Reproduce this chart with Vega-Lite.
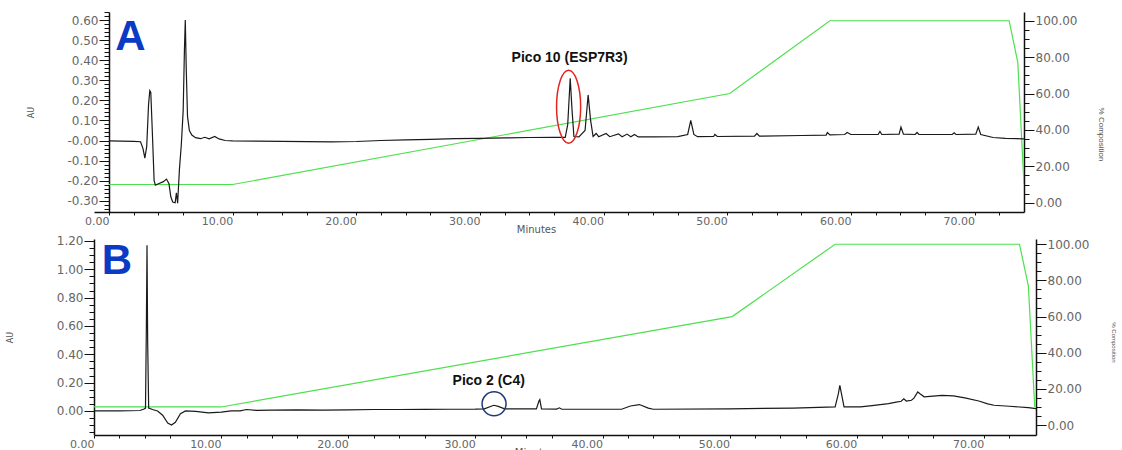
{
  "$schema": "https://vega.github.io/schema/vega-lite/v6.json",
  "padding": {"left": 6, "top": 6, "right": 0, "bottom": 0},
  "spacing": 0,
  "config": {
    "view": {"stroke": null},
    "axis": {
      "domainColor": "#111111",
      "domainWidth": 1.5,
      "tickColor": "#111111",
      "tickWidth": 1,
      "tickCount": 200,
      "labelFont": "DejaVu Sans",
      "labelFontSize": 12,
      "labelColor": "#666666",
      "titleFont": "DejaVu Sans",
      "titleFontWeight": "normal",
      "titleColor": "#555555",
      "grid": false,
      "labelOverlap": false,
      "labelFlush": false,
      "labelBound": false
    }
  },
  "datasets": {
    "gradient": [
      {"t": 0, "pct": 10}, {"t": 10, "pct": 10}, {"t": 50.2, "pct": 60}, {"t": 58.3, "pct": 100},
      {"t": 72.8, "pct": 100}, {"t": 73.5, "pct": 77}, {"t": 74.0, "pct": 10}
    ],
    "traceA": [
      {"t": 0, "au": -0.002}, {"t": 1.0, "au": -0.003}, {"t": 2.0, "au": -0.004}, {"t": 2.55, "au": -0.006},
      {"t": 2.75, "au": -0.04}, {"t": 2.9, "au": -0.088}, {"t": 3.05, "au": -0.03}, {"t": 3.2, "au": 0.18},
      {"t": 3.3, "au": 0.248}, {"t": 3.38, "au": 0.24}, {"t": 3.5, "au": 0.05}, {"t": 3.65, "au": -0.2},
      {"t": 3.75, "au": -0.222}, {"t": 4.0, "au": -0.215}, {"t": 4.4, "au": -0.205}, {"t": 4.65, "au": -0.192},
      {"t": 4.85, "au": -0.215}, {"t": 5.0, "au": -0.28}, {"t": 5.15, "au": -0.306}, {"t": 5.35, "au": -0.31},
      {"t": 5.45, "au": -0.26}, {"t": 5.55, "au": -0.312}, {"t": 5.7, "au": -0.14}, {"t": 5.85, "au": -0.02},
      {"t": 6.0, "au": 0.15}, {"t": 6.1, "au": 0.45}, {"t": 6.17, "au": 0.6}, {"t": 6.25, "au": 0.35},
      {"t": 6.35, "au": 0.12}, {"t": 6.5, "au": 0.05}, {"t": 6.7, "au": 0.027}, {"t": 7.0, "au": 0.014},
      {"t": 7.4, "au": 0.009}, {"t": 7.75, "au": 0.016}, {"t": 8.1, "au": 0.008}, {"t": 8.55, "au": 0.02},
      {"t": 8.9, "au": 0.008}, {"t": 9.4, "au": 0.0}, {"t": 10, "au": -0.002}, {"t": 12, "au": -0.003},
      {"t": 14, "au": -0.004}, {"t": 16, "au": -0.006}, {"t": 18, "au": -0.007}, {"t": 20, "au": -0.005},
      {"t": 22, "au": 0.0}, {"t": 24, "au": 0.003}, {"t": 26, "au": 0.006}, {"t": 28, "au": 0.009},
      {"t": 30, "au": 0.011}, {"t": 32, "au": 0.013}, {"t": 34, "au": 0.015}, {"t": 36, "au": 0.016},
      {"t": 36.9, "au": 0.016}, {"t": 37.1, "au": 0.08}, {"t": 37.3, "au": 0.31}, {"t": 37.45, "au": 0.15},
      {"t": 37.6, "au": 0.02}, {"t": 38.0, "au": 0.018}, {"t": 38.5, "au": 0.05}, {"t": 38.75, "au": 0.227},
      {"t": 38.95, "au": 0.1}, {"t": 39.15, "au": 0.02}, {"t": 39.4, "au": 0.035}, {"t": 39.6, "au": 0.019},
      {"t": 40.2, "au": 0.035}, {"t": 40.5, "au": 0.019}, {"t": 41.2, "au": 0.033}, {"t": 41.5, "au": 0.019},
      {"t": 41.9, "au": 0.032}, {"t": 42.2, "au": 0.019}, {"t": 42.5, "au": 0.03}, {"t": 42.8, "au": 0.018},
      {"t": 44, "au": 0.018}, {"t": 46, "au": 0.019}, {"t": 46.8, "au": 0.03}, {"t": 47.05, "au": 0.1},
      {"t": 47.3, "au": 0.03}, {"t": 47.6, "au": 0.019}, {"t": 48.9, "au": 0.02}, {"t": 49.0, "au": 0.03},
      {"t": 49.2, "au": 0.02}, {"t": 52.2, "au": 0.022}, {"t": 52.4, "au": 0.035}, {"t": 52.6, "au": 0.022},
      {"t": 56, "au": 0.025}, {"t": 58.0, "au": 0.027}, {"t": 58.1, "au": 0.04}, {"t": 58.3, "au": 0.028},
      {"t": 59.5, "au": 0.03}, {"t": 59.7, "au": 0.04}, {"t": 60, "au": 0.03}, {"t": 62.2, "au": 0.03},
      {"t": 62.35, "au": 0.045}, {"t": 62.5, "au": 0.03}, {"t": 63.9, "au": 0.032}, {"t": 64.05, "au": 0.067},
      {"t": 64.25, "au": 0.032}, {"t": 65.2, "au": 0.03}, {"t": 65.35, "au": 0.04}, {"t": 65.5, "au": 0.03},
      {"t": 68.2, "au": 0.03}, {"t": 68.35, "au": 0.038}, {"t": 68.5, "au": 0.03}, {"t": 70.1, "au": 0.032},
      {"t": 70.3, "au": 0.067}, {"t": 70.5, "au": 0.03}, {"t": 71.5, "au": 0.015}, {"t": 72.5, "au": 0.011},
      {"t": 74, "au": 0.008}
    ],
    "traceB": [
      {"t": 0, "au": 0.0}, {"t": 2, "au": 0.0}, {"t": 3.6, "au": 0.003}, {"t": 3.9, "au": 0.012},
      {"t": 4.05, "au": 0.02}, {"t": 4.12, "au": 0.6}, {"t": 4.17, "au": 1.17}, {"t": 4.22, "au": 0.5},
      {"t": 4.3, "au": 0.02}, {"t": 4.6, "au": 0.01}, {"t": 5.0, "au": 0.0}, {"t": 5.4, "au": -0.03},
      {"t": 5.8, "au": -0.085}, {"t": 6.1, "au": -0.1}, {"t": 6.4, "au": -0.08}, {"t": 6.8, "au": -0.02},
      {"t": 7.2, "au": 0.0}, {"t": 8.0, "au": -0.003}, {"t": 9.0, "au": -0.014}, {"t": 10.0, "au": -0.008},
      {"t": 10.8, "au": 0.0}, {"t": 11.5, "au": 0.0}, {"t": 12.0, "au": 0.01}, {"t": 12.8, "au": 0.004},
      {"t": 14, "au": 0.005}, {"t": 16, "au": 0.008}, {"t": 18, "au": 0.006}, {"t": 20, "au": 0.008},
      {"t": 22, "au": 0.01}, {"t": 24, "au": 0.01}, {"t": 26, "au": 0.011}, {"t": 28, "au": 0.012},
      {"t": 30, "au": 0.013}, {"t": 30.7, "au": 0.015}, {"t": 31.45, "au": 0.04}, {"t": 31.8, "au": 0.032},
      {"t": 32.3, "au": 0.015}, {"t": 34.8, "au": 0.014}, {"t": 35.0, "au": 0.07}, {"t": 35.07, "au": 0.08},
      {"t": 35.2, "au": 0.014}, {"t": 36.4, "au": 0.013}, {"t": 36.6, "au": 0.022}, {"t": 36.8, "au": 0.012},
      {"t": 41.5, "au": 0.012}, {"t": 42.2, "au": 0.035}, {"t": 42.9, "au": 0.045}, {"t": 43.6, "au": 0.02},
      {"t": 44, "au": 0.012}, {"t": 50, "au": 0.015}, {"t": 55, "au": 0.02}, {"t": 58.3, "au": 0.028},
      {"t": 58.55, "au": 0.12}, {"t": 58.67, "au": 0.18}, {"t": 58.8, "au": 0.12}, {"t": 59.0, "au": 0.028},
      {"t": 60.3, "au": 0.028}, {"t": 61.2, "au": 0.038}, {"t": 62.5, "au": 0.052}, {"t": 63.0, "au": 0.06},
      {"t": 63.5, "au": 0.068}, {"t": 63.7, "au": 0.085}, {"t": 63.9, "au": 0.07}, {"t": 64.3, "au": 0.075},
      {"t": 64.5, "au": 0.09}, {"t": 64.8, "au": 0.134}, {"t": 65.0, "au": 0.12}, {"t": 65.3, "au": 0.1},
      {"t": 66, "au": 0.105}, {"t": 66.7, "au": 0.11}, {"t": 67.6, "au": 0.106}, {"t": 68.5, "au": 0.092},
      {"t": 69.6, "au": 0.07}, {"t": 70.3, "au": 0.05}, {"t": 70.8, "au": 0.04}, {"t": 72.0, "au": 0.033},
      {"t": 73.5, "au": 0.023}, {"t": 74.1, "au": 0.016}
    ]
  },
  "vconcat": [
    {
      "width": 930,
      "height": 200,
      "resolve": {"scale": {"y": "independent"}, "axis": {"y": "independent"}},
      "layer": [
        {
          "data": {"name": "gradient"},
          "mark": {"type": "line", "color": "#4de04d", "strokeWidth": 1.2, "clip": true},
          "encoding": {
            "x": {
              "field": "t", "type": "quantitative",
              "scale": {"domain": [-1.213, 74.0], "nice": false, "zero": false},
              "axis": {
                "values": [0, 2, 4, 6, 10, 12, 14, 16, 20, 22, 24, 26, 30, 32, 34, 36, 40, 42, 44, 46, 50, 52, 54, 56, 60, 62, 64, 66, 70, 72],
                "labelExpr": "datum.value % 10 === 0 ? format(datum.value, '.2f') : ''",
                "tickCount": 200, "tickSize": 3, "labelAlign": "right", "labelPadding": 0, "labelFontSize": 11,
                "title": "Minutes", "titleFontSize": 10, "titlePadding": -2, "titleX": 442, "titleAlign": "center"
              }
            },
            "y": {
              "field": "pct", "type": "quantitative",
              "scale": {"domain": [-5.1, 104.8], "nice": false, "zero": false},
              "axis": {
                "orient": "right", "tickCount": 200,
                "values": [0, 5, 10, 15, 20, 25, 30, 35, 40, 45, 50, 55, 60, 65, 70, 75, 80, 85, 90, 95, 100],
                "labelExpr": "datum.value % 20 === 0 ? format(datum.value, '.2f') : ''",
                "tickSize": {"condition": {"test": "datum.value % 20 === 0", "value": 10}, "value": 5},
                "labelPadding": 1,
                "title": "% Composition", "titleFont": "Liberation Sans", "titleFontSize": 8,
                "titleAngle": 90, "titlePadding": 20, "titleY": 122
              }
            }
          }
        },
        {
          "layer": [
            {
              "data": {"name": "traceA"},
              "mark": {"type": "line", "color": "#1a1a1a", "strokeWidth": 1.2, "clip": true},
              "encoding": {
                "x": {"field": "t", "type": "quantitative"},
                "y": {
                  "field": "au", "type": "quantitative",
                  "scale": {"domain": [-0.356, 0.64], "nice": false, "zero": false},
                  "axis": {
                    "orient": "left", "offset": -15, "tickCount": 200,
                    "values": [-0.34, -0.32, -0.3, -0.28, -0.26, -0.24, -0.22, -0.2, -0.18, -0.16, -0.14, -0.12, -0.1, -0.08, -0.06, -0.04, -0.02, 0, 0.02, 0.04, 0.06, 0.08, 0.1, 0.12, 0.14, 0.16, 0.18, 0.2, 0.22, 0.24, 0.26, 0.28, 0.3, 0.32, 0.34, 0.36, 0.38, 0.4, 0.42, 0.44, 0.46, 0.48, 0.5, 0.52, 0.54, 0.56, 0.58, 0.6, 0.62, 0.64],
                    "labelExpr": "abs(datum.value * 10 - round(datum.value * 10)) < 0.001 ? (datum.value < 0.005 ? '-' : '') + format(abs(datum.value), '.2f') : ''",
                    "tickSize": {"condition": {"test": "abs(datum.value * 10 - round(datum.value * 10)) < 0.001", "value": 10}, "value": 5},
                    "labelPadding": 1,
                    "title": "AU", "titleFontSize": 8, "titlePadding": 31
                  }
                }
              }
            },
            {
              "data": {"values": [{"label": "Pico 10 (ESP7R3)"}]},
              "mark": {"type": "text", "font": "Liberation Sans", "fontSize": 14, "fontWeight": "bold", "color": "#111111", "align": "center", "baseline": "middle"},
              "encoding": {"x": {"datum": 37.25}, "y": {"datum": 0.41}, "text": {"field": "label"}}
            },
            {
              "data": {"values": [{"label": "Pico 10 (ESP7R3)"}]},
              "mark": {"type": "point", "shape": "M0,-1A0.33,1,0,1,1,0,1A0.33,1,0,1,1,0,-1Z", "size": 5329, "filled": false, "stroke": "#e3241f", "strokeWidth": 1.5, "opacity": 1},
              "encoding": {"x": {"datum": 37.17}, "y": {"datum": 0.168}}
            },
            {
              "data": {"values": [{"panel": "A"}]},
              "mark": {"type": "text", "font": "Liberation Sans", "fontSize": 42, "fontWeight": "bold", "color": "#0b3bc4", "align": "center", "baseline": "alphabetic"},
              "encoding": {"x": {"datum": 1.74}, "y": {"datum": 0.45}, "text": {"field": "panel"}}
            }
          ]
        }
      ]
    },
    {
      "width": 942,
      "height": 196,
      "resolve": {"scale": {"y": "independent"}, "axis": {"y": "independent"}},
      "layer": [
        {
          "data": {"name": "gradient"},
          "mark": {"type": "line", "color": "#4de04d", "strokeWidth": 1.2, "clip": true},
          "encoding": {
            "x": {
              "field": "t", "type": "quantitative",
              "scale": {"domain": [0, 74.1], "nice": false, "zero": false},
              "axis": {
                "values": [0, 2, 4, 6, 10, 12, 14, 16, 20, 22, 24, 26, 30, 32, 34, 36, 40, 42, 44, 46, 50, 52, 54, 56, 60, 62, 64, 66, 70, 72],
                "labelExpr": "datum.value % 10 === 0 ? format(datum.value, '.2f') : ''",
                "tickCount": 200, "tickSize": 3, "labelAlign": "right", "labelPadding": 0, "labelFontSize": 11,
                "title": "Minutes", "titleFontSize": 10, "titlePadding": -2, "titleX": 440, "titleAlign": "center"
              }
            },
            "y": {
              "field": "pct", "type": "quantitative",
              "scale": {"domain": [-5.5, 102.9], "nice": false, "zero": false},
              "axis": {
                "orient": "right", "tickCount": 200,
                "values": [0, 5, 10, 15, 20, 25, 30, 35, 40, 45, 50, 55, 60, 65, 70, 75, 80, 85, 90, 95, 100],
                "labelExpr": "datum.value % 20 === 0 ? format(datum.value, '.2f') : ''",
                "tickSize": {"condition": {"test": "datum.value % 20 === 0", "value": 10}, "value": 5},
                "labelPadding": 1,
                "title": "% Composition", "titleFont": "Liberation Sans", "titleFontSize": 6,
                "titleAngle": 90, "titlePadding": 22, "titleY": 103
              }
            }
          }
        },
        {
          "layer": [
            {
              "data": {"name": "traceB"},
              "mark": {"type": "line", "color": "#1a1a1a", "strokeWidth": 1.2, "clip": true},
              "encoding": {
                "x": {"field": "t", "type": "quantitative"},
                "y": {
                  "field": "au", "type": "quantitative",
                  "scale": {"domain": [-0.17, 1.214], "nice": false, "zero": false},
                  "axis": {
                    "orient": "left", "tickCount": 200,
                    "values": [-0.15, -0.1, -0.05, 0, 0.05, 0.1, 0.15, 0.2, 0.25, 0.3, 0.35, 0.4, 0.45, 0.5, 0.55, 0.6, 0.65, 0.7, 0.75, 0.8, 0.85, 0.9, 0.95, 1.0, 1.05, 1.1, 1.15, 1.2],
                    "labelExpr": "abs(datum.value * 5 - round(datum.value * 5)) < 0.001 ? format(datum.value, '.2f') : ''",
                    "tickSize": {"condition": {"test": "abs(datum.value * 5 - round(datum.value * 5)) < 0.001", "value": 10}, "value": 5},
                    "labelPadding": 1,
                    "title": "AU", "titleFontSize": 8, "titlePadding": 42
                  }
                }
              }
            },
            {
              "data": {"values": [{"label": "Pico 2 (C4)"}]},
              "mark": {"type": "text", "font": "Liberation Sans", "fontSize": 14, "fontWeight": "bold", "color": "#111111", "align": "center", "baseline": "middle"},
              "encoding": {"x": {"datum": 31.05}, "y": {"datum": 0.21}, "text": {"field": "label"}}
            },
            {
              "data": {"values": [{"label": "Pico 2 (C4)"}]},
              "mark": {"type": "point", "shape": "circle", "size": 576, "filled": false, "stroke": "#1f3b73", "strokeWidth": 1.5, "opacity": 1},
              "encoding": {"x": {"datum": 31.47}, "y": {"datum": 0.05}}
            },
            {
              "data": {"values": [{"panel": "B"}]},
              "mark": {"type": "text", "font": "Liberation Sans", "fontSize": 42, "fontWeight": "bold", "color": "#0b3bc4", "align": "center", "baseline": "alphabetic"},
              "encoding": {"x": {"datum": 1.81}, "y": {"datum": 0.967}, "text": {"field": "panel"}}
            }
          ]
        }
      ]
    }
  ]
}
